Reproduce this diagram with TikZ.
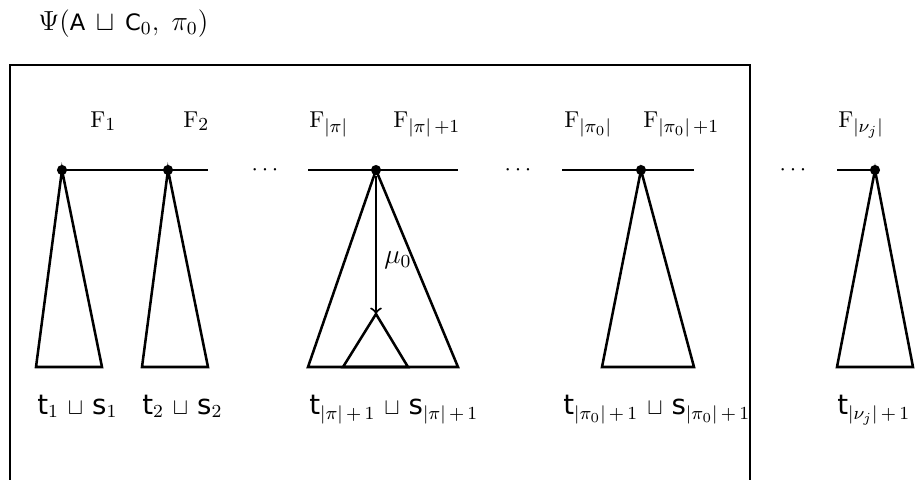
\documentclass[tikz,border=0pt]{standalone}
\usepackage{fontspec}
\newfontfamily\djv{DejaVu Sans}[Scale=1.2]
\newfontfamily\djvt{DejaVu Sans}[Scale=0.82]
\DeclareMathSizes{10}{10}{8}{6}
\newcommand\sff[1]{\mbox{\djv #1}}
\newcommand\sft[1]{\mbox{\djvt #1}}
\newcommand\dsq{\,\sqcup\,}
\begin{document}
\begin{tikzpicture}[x=0.435pt,y=-0.435pt,line width=1.1pt,
  lbl/.style={anchor=base west,inner sep=0pt},
  dts/.style={anchor=base,inner sep=0pt},
  apex/.style={circle,fill,inner sep=0pt,minimum size=4.4pt}]
\useasboundingbox (0,0) rectangle (915,479);
% title
\node[lbl,font=\large] (title) at (37,30) {$\Psi(\sft{A}\dsq\sft{C}_0,\;\pi_0)$};
% frame
\draw (10,485) -- (10,65) -- (750,65) -- (750,485);
% apexes
\node[apex] (a1) at (62,170) {};
\node[apex] (a2) at (168,170) {};
\node[apex] (a3) at (376,170) {};
\node[apex] (a4) at (641,170) {};
\node[apex] (a5) at (875,170) {};
% line ends
\coordinate (l1e) at (208,170);
\coordinate (l2s) at (308,170);
\coordinate (l2e) at (458,170);
\coordinate (l3s) at (562,170);
\coordinate (l3e) at (694,170);
\coordinate (l4s) at (837,170);
\draw (a1.center) -- (l1e);
\draw (l2s) -- (l2e);
\draw (l3s) -- (l3e);
\draw (l4s) -- (a5.center);
% triangle bases
\coordinate (b1l) at (36,367);  \coordinate (b1r) at (102,367);
\coordinate (b2l) at (142,367); \coordinate (b2r) at (208,367);
\coordinate (b3l) at (308,367); \coordinate (b3r) at (458,367);
\coordinate (b4l) at (602,367); \coordinate (b4r) at (694,367);
\coordinate (b5l) at (837,367); \coordinate (b5r) at (913,367);
\draw (a1.center) -- (b1l) -- (b1r) -- cycle;
\draw (a2.center) -- (b2l) -- (b2r) -- cycle;
\draw (a3.center) -- (b3l) -- (b3r) -- cycle;
\draw (a4.center) -- (b4l) -- (b4r) -- cycle;
\draw (a5.center) -- (b5l) -- (b5r) -- cycle;
% inner triangle
\coordinate (ia) at (376,314);
\coordinate (il) at (343,367);
\coordinate (ir) at (408,367);
\draw (ia) -- (il) -- (ir) -- cycle;
\draw[->,line width=0.9pt] (a3) -- (ia);
\node[lbl,font=\large] (mu) at (383,263) {$\mu_0$};
% dots
\node[dts] (d1) at (265,175) {$\cdots$};
\node[dts] (d2) at (518,175) {$\cdots$};
\node[dts] (d3) at (793,175) {$\cdots$};
% F labels
\node[lbl] (f1) at (89,127) {$\mathrm{F}_1$};
\node[lbl] (f2) at (182,127) {$\mathrm{F}_2$};
\node[lbl] (f3) at (308,127) {$\mathrm{F}_{|\pi|}$};
\node[lbl] (f4) at (392,127) {$\mathrm{F}_{|\pi|\,+1}$};
\node[lbl] (f5) at (563,127) {$\mathrm{F}_{|\pi_0|}$};
\node[lbl] (f6) at (642,127) {$\mathrm{F}_{|\pi_0|\,+1}$};
\node[lbl] (f7) at (837,127) {$\mathrm{F}_{|\nu_j|}$};
% bottom labels
\node[lbl] (t1) at (36,414) {$\sff{t}_1\dsq\sff{s}_1$};
\node[lbl] (t2) at (141,414) {$\sff{t}_2\dsq\sff{s}_2$};
\node[lbl] (t3) at (308,414) {$\sff{t}_{|\pi|\,+\,1}\dsq\sff{s}_{|\pi|\,+\,1}$};
\node[lbl] (t4) at (562,414) {$\sff{t}_{|\pi_0|\,+\,1}\dsq\sff{s}_{|\pi_0|\,+\,1}$};
\node[lbl] (t5) at (836,414) {$\sff{t}_{|\nu_j|\,+\,1}$};
\end{tikzpicture}
\end{document}
